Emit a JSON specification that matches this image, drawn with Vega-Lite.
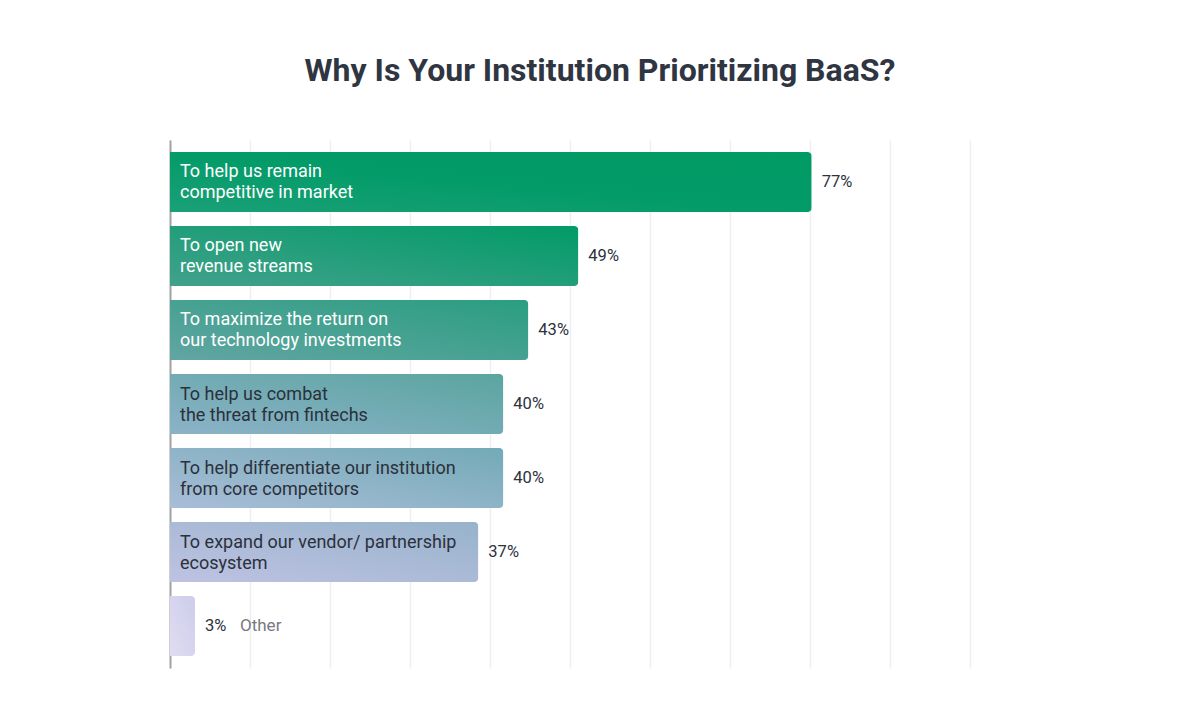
{
  "$schema": "https://vega.github.io/schema/vega-lite/v6.json",
  "autosize": "none",
  "width": 800,
  "height": 528,
  "padding": {"left": 170, "top": 140, "right": 230, "bottom": 52},
  "background": "#ffffff",
  "view": {"stroke": null},
  "title": {
    "text": "Why Is Your Institution Prioritizing BaaS?",
    "anchor": "middle",
    "dx": 30,
    "offset": 52,
    "font": "Roboto",
    "fontSize": 32,
    "fontWeight": "bold",
    "color": "#2f3541"
  },
  "data": {
    "values": [
      {"reason": "To help us remain\ncompetitive in market", "pct": 77, "pos": 1},
      {"reason": "To open new\nrevenue streams", "pct": 49, "pos": 2},
      {"reason": "To maximize the return on\nour technology investments", "pct": 43, "pos": 3},
      {"reason": "To help us combat\nthe threat from fintechs", "pct": 40, "pos": 4},
      {"reason": "To help differentiate our institution\nfrom core competitors", "pct": 40, "pos": 5},
      {"reason": "To expand our vendor/ partnership\necosystem", "pct": 37, "pos": 6},
      {"reason": "Other", "pct": 3, "pos": 7}
    ]
  },
  "transform": [{"calculate": "datum.pct + '%'", "as": "pctLabel"}],
  "encoding": {
    "y": {
      "field": "pos",
      "type": "ordinal",
      "scale": {"paddingInner": 0.1892, "paddingOuter": 0.162},
      "axis": {
        "title": null,
        "labels": false,
        "ticks": false,
        "grid": false,
        "domain": true,
        "domainColor": "#a3a3a3",
        "domainWidth": 2
      }
    }
  },
  "layer": [
    {
      "mark": {"type": "bar", "cornerRadiusEnd": 4},
      "encoding": {
        "x": {
          "field": "pct",
          "type": "quantitative",
          "scale": {"domain": [0, 96], "nice": false},
          "axis": {
            "title": null,
            "labels": false,
            "ticks": false,
            "domain": false,
            "grid": true,
            "gridColor": "#efeff2",
            "gridWidth": 1.5,
            "values": [0, 9.6, 19.2, 28.8, 38.4, 48, 57.6, 67.2, 76.8, 86.4, 96]
          }
        },
        "color": {
          "condition": [
            {"test": "datum.pos == 1", "value": {"gradient": "linear", "x1": 0, "y1": 1, "x2": 1, "y2": 0, "stops": [{"offset": 0, "color": "#1aa077"}, {"offset": 0.5, "color": "#039b68"}, {"offset": 1, "color": "#009a64"}]}},
            {"test": "datum.pos == 2", "value": {"gradient": "linear", "x1": 0, "y1": 1, "x2": 1, "y2": 0, "stops": [{"offset": 0, "color": "#42a18c"}, {"offset": 1, "color": "#019b66"}]}},
            {"test": "datum.pos == 3", "value": {"gradient": "linear", "x1": 0, "y1": 1, "x2": 1, "y2": 0, "stops": [{"offset": 0, "color": "#62a5a3"}, {"offset": 1, "color": "#2a9e80"}]}},
            {"test": "datum.pos == 4", "value": {"gradient": "linear", "x1": 0, "y1": 1, "x2": 1, "y2": 0, "stops": [{"offset": 0, "color": "#8cb2c8"}, {"offset": 1, "color": "#5aa5a0"}]}},
            {"test": "datum.pos == 5", "value": {"gradient": "linear", "x1": 0, "y1": 1, "x2": 1, "y2": 0, "stops": [{"offset": 0, "color": "#a9bdd8"}, {"offset": 1, "color": "#73aab6"}]}},
            {"test": "datum.pos == 6", "value": {"gradient": "linear", "x1": 0, "y1": 1, "x2": 1, "y2": 0, "stops": [{"offset": 0, "color": "#bec2e3"}, {"offset": 1, "color": "#97b3cb"}]}}
          ],
          "value": {"gradient": "linear", "x1": 0, "y1": 1, "x2": 1, "y2": 0, "stops": [{"offset": 0, "color": "#e0dcf2"}, {"offset": 1, "color": "#cdcdea"}]}
        }
      }
    },
    {
      "transform": [{"filter": "datum.pos < 7"}],
      "mark": {
        "type": "text",
        "align": "left",
        "baseline": "middle",
        "dx": 10,
        "dy": -9.5,
        "font": "Roboto",
        "fontSize": 18,
        "lineHeight": 21,
        "lineBreak": "\n"
      },
      "encoding": {
        "x": {"datum": 0, "type": "quantitative"},
        "text": {"field": "reason"},
        "color": {
          "condition": {"test": "datum.pos <= 3", "value": "#ffffff"},
          "value": "#2b303b"
        }
      }
    },
    {
      "mark": {
        "type": "text",
        "align": "left",
        "baseline": "middle",
        "dx": 10,
        "font": "Roboto",
        "fontSize": 16.5,
        "fontWeight": "normal"
      },
      "encoding": {
        "x": {"field": "pct", "type": "quantitative"},
        "text": {"field": "pctLabel"},
        "color": {"value": "#2d323c"}
      }
    },
    {
      "transform": [{"filter": "datum.pos == 7"}],
      "mark": {
        "type": "text",
        "align": "left",
        "baseline": "middle",
        "dx": 45,
        "font": "Roboto",
        "fontSize": 17,
        "color": "#76797f"
      },
      "encoding": {
        "x": {"field": "pct", "type": "quantitative"},
        "text": {"field": "reason"}
      }
    }
  ]
}
